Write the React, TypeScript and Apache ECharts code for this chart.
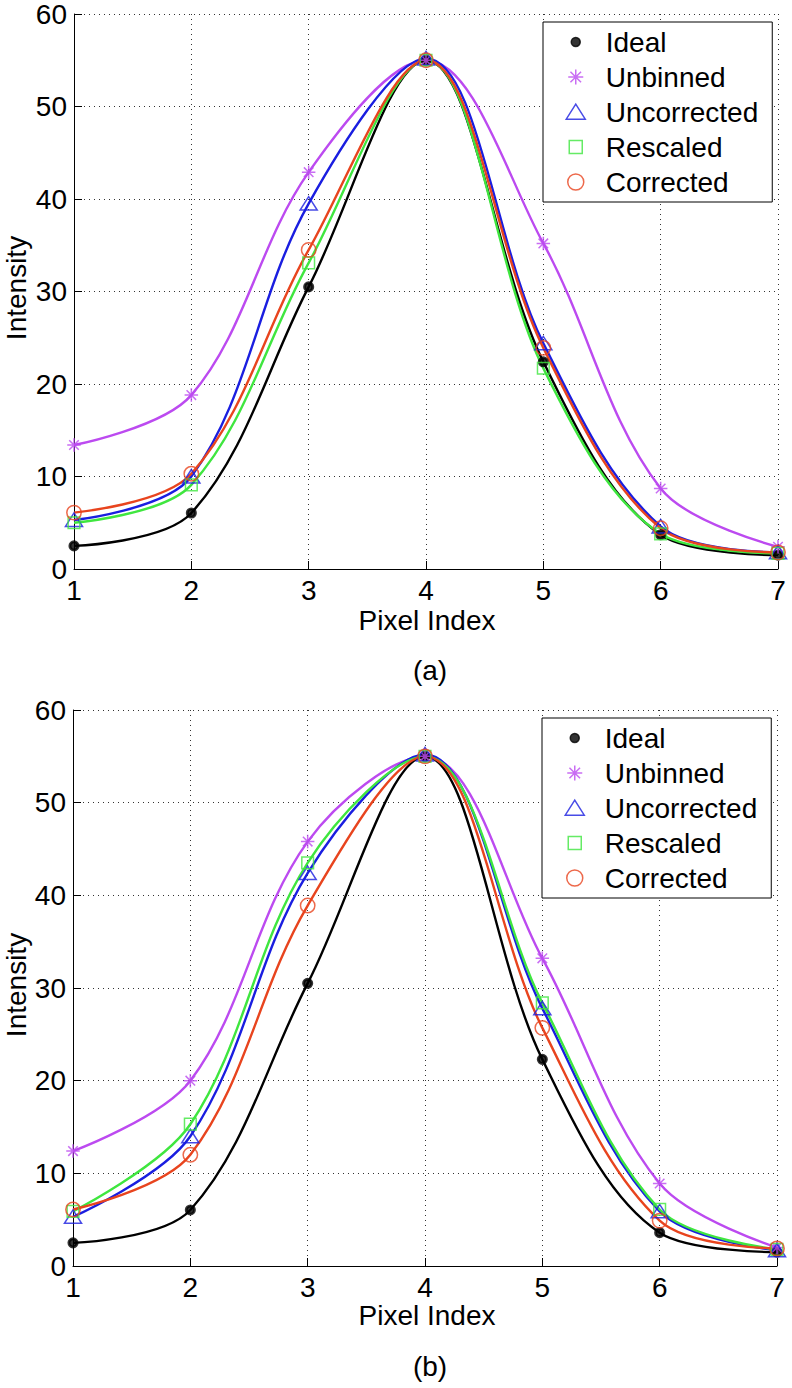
import React, { useEffect, useRef } from 'react';
import * as echarts from 'echarts';

// ---------- data ----------
const pixelIndex = [1, 2, 3, 4, 5, 6, 7];
const seriesNames = ['Ideal', 'Unbinned', 'Uncorrected', 'Rescaled', 'Corrected'];

// panel (a)
const idealA = [2.5, 6.05, 30.5, 55.0, 22.4, 3.7, 1.5];
const unbinnedA = [13.4, 18.8, 42.9, 55.0, 35.2, 8.7, 2.4];
const uncorrectedA = [5.3, 10.0, 39.5, 55.2, 24.4, 4.6, 1.8];
const rescaledA = [5.0, 9.1, 33.1, 55.0, 21.7, 3.8, 1.7];
const correctedA = [6.1, 10.3, 34.5, 55.0, 23.9, 4.4, 1.8];

// panel (b)
const idealB = [2.5, 6.05, 30.5, 55.0, 22.3, 3.6, 1.5];
const unbinnedB = [12.4, 20.0, 45.8, 55.0, 33.2, 8.9, 2.0];
const uncorrectedB = [5.3, 14.0, 42.4, 55.2, 27.8, 5.9, 1.7];
const rescaledB = [5.9, 15.3, 43.5, 55.0, 28.4, 6.1, 1.8];
const correctedB = [6.1, 12.0, 38.9, 55.0, 25.7, 4.9, 1.9];

const xAxisTitle = 'Pixel Index';
const yAxisTitle = 'Intensity';
const panelLabels = ['(a)', '(b)'];

// ---------- styles ----------
const FONT = 'Liberation Sans, Arial, Helvetica, sans-serif';
const colors = ['#000000', '#bc4af0', '#1a1ee0', '#3fe63f', '#e8441e'];
const FRAME = 'M0 0 M20 20 ';
const symbols = [
  'path://' + FRAME + 'M14.5 10 A4.5 4.5 0 1 1 5.5 10 A4.5 4.5 0 1 1 14.5 10 Z',
  'path://' + FRAME + 'M10 2.5 L10 17.5 M2.5 10 L17.5 10 M4.7 4.7 L15.3 15.3 M4.7 15.3 L15.3 4.7',
  'path://' + FRAME + 'M10 2.2 L19.5 17.2 L0.5 17.2 Z',
  'path://' + FRAME + 'M3.5 3.5 L16.5 3.5 L16.5 16.5 L3.5 16.5 Z',
  'path://' + FRAME + 'M18 10 A8 8 0 1 1 2 10 A8 8 0 1 1 18 10 Z',
];

const panelsData = [
  [idealA, unbinnedA, uncorrectedA, rescaledA, correctedA],
  [idealB, unbinnedB, uncorrectedB, rescaledB, correctedB],
];

const grids = [
  { left: 74, top: 14, width: 704, height: 555 },
  { left: 73, top: 710, width: 704, height: 556 },
];
const legendPos = [
  { left: 543, top: 22 },
  { left: 542, top: 718 },
];
const titlePos = [
  { yTitle: [16, 288], xTitle: [427, 620], label: [430, 670] },
  { yTitle: [16, 985], xTitle: [427, 1315], label: [430, 1366] },
];

function buildOption() {
  const gridSplit = {
    show: true,
    lineStyle: { color: '#333', width: 1, type: [1, 4] as any },
  };
  const axisCommon = {
    axisLine: { show: true, onZero: false, lineStyle: { color: '#000', width: 1 } },
    axisTick: { show: true, inside: true, length: 8, lineStyle: { color: '#000', width: 1 } },
    axisLabel: { color: '#000', fontSize: 28, fontFamily: FONT, margin: 7 },
    splitLine: gridSplit,
  };

  const series: any[] = [];
  panelsData.forEach((panel, p) => {
    panel.forEach((vals, s) => {
      series.push({
        type: 'line',
        name: seriesNames[s] + ' curve ' + p,
        xAxisIndex: p,
        yAxisIndex: p,
        data: pixelIndex.map((x, i) => [x, vals[i]]),
        smooth: 0.35,
        symbol: 'none',
        silent: true,
        lineStyle: { color: colors[s], width: 2.4 },
        z: 2,
      });
    });
    panel.forEach((vals, s) => {
      series.push({
        type: 'scatter',
        name: seriesNames[s],
        xAxisIndex: p,
        yAxisIndex: p,
        data: pixelIndex.map((x, i) => [x, vals[i]]),
        symbol: symbols[s],
        symbolSize: 18,
        itemStyle:
          s === 0
            ? { color: '#000', borderColor: '#000', borderWidth: 3 }
            : { color: 'rgba(0,0,0,0)', borderColor: colors[s], borderWidth: 1.5 },
        z: 3,
      });
    });
  });

  const graphics: any[] = [];
  titlePos.forEach((t, p) => {
    graphics.push({
      type: 'text',
      x: t.yTitle[0],
      y: t.yTitle[1],
      rotation: Math.PI / 2,
      style: {
        text: yAxisTitle,
        fontSize: 28,
        fontFamily: FONT,
        fill: '#000',
        align: 'center',
        verticalAlign: 'middle',
      },
    });
    graphics.push({
      type: 'text',
      x: t.xTitle[0],
      y: t.xTitle[1],
      style: {
        text: xAxisTitle,
        fontSize: 28,
        fontFamily: FONT,
        fill: '#000',
        align: 'center',
        verticalAlign: 'middle',
      },
    });
    graphics.push({
      type: 'text',
      x: t.label[0],
      y: t.label[1],
      style: {
        text: panelLabels[p],
        fontSize: 28,
        fontFamily: FONT,
        fill: '#000',
        align: 'center',
        verticalAlign: 'middle',
      },
    });
  });

  return {
    animation: false,
    backgroundColor: '#fff',
    grid: grids.map((g) => ({ ...g, containLabel: false, outerBoundsMode: 'none' })),
    xAxis: grids.map((_, p) => ({
      type: 'value',
      gridIndex: p,
      min: 1,
      max: 7,
      interval: 1,
      ...axisCommon,
    })),
    yAxis: grids.map((_, p) => ({
      type: 'value',
      gridIndex: p,
      min: 0,
      max: 60,
      interval: 10,
      ...axisCommon,
    })),
    legend: legendPos.map((lp) => ({
      ...lp,
      orient: 'vertical',
      data: seriesNames,
      selectedMode: false,
      backgroundColor: '#fff',
      borderColor: '#000',
      borderWidth: 1,
      borderRadius: 0,
      padding: [6, 14, 6, 22],
      itemGap: 7,
      itemWidth: 50,
      itemHeight: 20,
      itemStyle: { borderWidth: 1.5 },
      textStyle: { color: '#000', fontSize: 28, fontFamily: FONT },
    })),
    graphic: graphics,
    series,
  };
}

export default function App() {
  const ref = useRef<HTMLDivElement>(null);
  useEffect(() => {
    document.body.style.margin = '0';
    if (!ref.current) return;
    const chart = echarts.init(ref.current, undefined, { renderer: 'svg' });
    chart.setOption(buildOption() as any);
    return () => chart.dispose();
  }, []);
  return (
    <div
      ref={ref}
      style={{ position: 'absolute', left: 0, top: 0, width: 792, height: 1388, background: '#fff' }}
    />
  );
}
